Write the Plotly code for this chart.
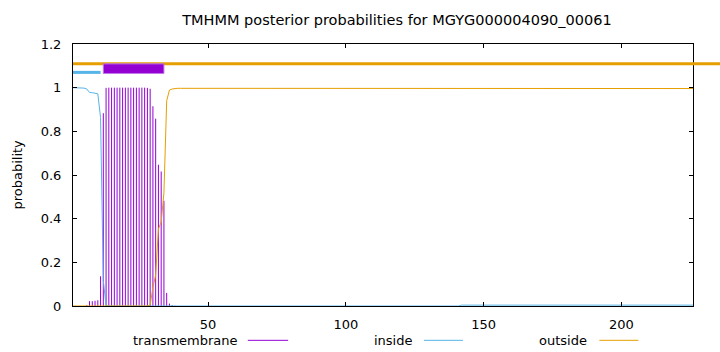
import plotly.graph_objects as go

# ---------------- data ----------------
title_text = "TMHMM posterior probabilities for MGYG000004090_00061"
series_names = ["transmembrane", "inside", "outside"]
x_tick_vals = [50, 100, 150, 200]
y_tick_vals = [0, 0.2, 0.4, 0.6, 0.8, 1.0, 1.2]
y_tick_text = ["0", "0.2", "0.4", "0.6", "0.8", "1", "1.2"]

tm_prob = [
    0, 0, 0, 0, 0, 0.004, 0.022, 0.022, 0.024, 0.026,
    0.136, 0.883, 0.999, 1, 1, 1, 1, 1, 1, 1,
    1, 1, 1, 1, 1, 1, 1, 0.999, 0.995, 0.915,
    0.858, 0.647, 0.616, 0.482, 0.06, 0.011, 0.004, 0.001, 0, 0,
    0, 0, 0, 0, 0, 0, 0, 0, 0, 0, 0, 0, 0, 0, 0, 0, 0, 0, 0, 0,
    0, 0, 0, 0, 0, 0, 0, 0, 0, 0, 0, 0, 0, 0, 0, 0, 0, 0, 0, 0,
    0, 0, 0, 0, 0, 0, 0, 0, 0, 0, 0, 0, 0, 0, 0, 0, 0, 0, 0, 0,
    0, 0, 0, 0, 0, 0, 0, 0, 0, 0, 0, 0, 0, 0, 0, 0, 0, 0, 0, 0,
    0, 0, 0, 0, 0, 0, 0, 0, 0, 0, 0, 0, 0, 0, 0, 0, 0, 0, 0, 0,
    0, 0, 0, 0, 0, 0, 0, 0, 0, 0, 0, 0, 0, 0, 0, 0, 0, 0, 0, 0,
    0, 0, 0, 0, 0, 0, 0, 0, 0, 0, 0, 0, 0, 0, 0, 0, 0, 0, 0, 0,
    0, 0, 0, 0, 0, 0, 0, 0, 0, 0, 0, 0, 0, 0, 0, 0, 0, 0, 0, 0,
    0, 0, 0, 0, 0, 0, 0, 0, 0, 0, 0, 0, 0, 0, 0, 0, 0, 0, 0, 0,
    0, 0, 0, 0, 0, 0,
]

inside_prob = [
    1, 1, 0.999, 0.999, 0.998, 0.994, 0.978, 0.977, 0.975, 0.972,
    0.864, 0.117, 0.001,
    0, 0, 0, 0, 0, 0, 0, 0, 0, 0, 0, 0, 0, 0, 0, 0, 0, 0, 0, 0,
    0, 0, 0, 0, 0, 0, 0, 0, 0, 0, 0, 0, 0, 0, 0, 0, 0, 0, 0, 0,
    0, 0, 0, 0, 0, 0, 0, 0, 0, 0, 0, 0, 0, 0, 0, 0, 0, 0, 0, 0,
    0, 0, 0, 0, 0, 0, 0, 0, 0, 0, 0, 0, 0, 0, 0, 0, 0, 0, 0, 0,
    0, 0, 0, 0, 0, 0, 0, 0, 0, 0, 0, 0, 0, 0, 0, 0, 0, 0, 0, 0,
    0, 0, 0, 0, 0, 0, 0, 0, 0, 0, 0, 0, 0, 0, 0, 0, 0, 0, 0, 0,
    0, 0, 0, 0, 0, 0, 0, 0,
    0.004, 0.004, 0.004, 0.004, 0.004, 0.004, 0.004, 0.004, 0.004, 0.004,
    0.004, 0.004, 0.004, 0.004, 0.004, 0.004, 0.004, 0.004, 0.004, 0.004,
    0.004, 0.004, 0.004, 0.004, 0.004, 0.004, 0.004, 0.004, 0.004, 0.004,
    0.004, 0.004, 0.004, 0.004, 0.004, 0.004, 0.004, 0.004, 0.004, 0.004,
    0.004, 0.004, 0.004, 0.004, 0.004, 0.004, 0.004, 0.004, 0.004, 0.004,
    0.004, 0.004, 0.004, 0.004, 0.004, 0.004, 0.004, 0.004, 0.004, 0.004,
    0.004, 0.004, 0.004, 0.004, 0.004, 0.004, 0.004, 0.004, 0.004, 0.004,
    0.004, 0.004, 0.004, 0.004, 0.004, 0.004, 0.004, 0.004, 0.004, 0.004,
    0.004, 0.004, 0.004, 0.004, 0.004,
]

outside_prob = [
    0, 0, 0, 0, 0, 0, 0, 0, 0, 0, 0, 0, 0, 0, 0, 0, 0, 0, 0, 0,
    0, 0, 0, 0, 0, 0, 0, 0,
    0.005, 0.085, 0.142, 0.353, 0.384, 0.518, 0.94, 0.989, 0.994, 0.997,
    0.997, 0.997, 0.997, 0.997, 0.997, 0.997, 0.997, 0.997, 0.997, 0.997,
    0.997, 0.997, 0.997, 0.997, 0.997, 0.997, 0.997, 0.997, 0.997, 0.997,
    0.997, 0.997, 0.997, 0.997, 0.997, 0.997, 0.997, 0.997, 0.997, 0.997,
    0.997, 0.997, 0.997, 0.997, 0.997, 0.997, 0.997, 0.997, 0.997, 0.997,
    0.997, 0.997, 0.997, 0.997, 0.997, 0.997, 0.997, 0.997, 0.997, 0.997,
    0.997, 0.997, 0.997, 0.997, 0.997, 0.997, 0.997, 0.997, 0.997, 0.997,
    0.997, 0.997, 0.997, 0.997, 0.997, 0.997, 0.997, 0.997, 0.997, 0.997,
    0.997, 0.997, 0.997, 0.997, 0.997, 0.997, 0.997, 0.997, 0.997, 0.997,
    0.997, 0.997, 0.997, 0.997, 0.997, 0.997, 0.997, 0.997, 0.997, 0.997,
    0.997, 0.997, 0.997, 0.997, 0.997, 0.997, 0.997, 0.997, 0.997, 0.997,
    0.997, 0.997, 0.997,
    0.996, 0.996, 0.996, 0.996, 0.996, 0.996, 0.996, 0.996, 0.996, 0.996,
    0.996, 0.996, 0.996, 0.996, 0.996, 0.996, 0.996, 0.996, 0.996, 0.996,
    0.996, 0.996, 0.996, 0.996, 0.996, 0.996, 0.996, 0.996, 0.996, 0.996,
    0.996, 0.996, 0.996, 0.996, 0.996, 0.996, 0.996, 0.996, 0.996, 0.996,
    0.996, 0.996, 0.996, 0.996, 0.996, 0.996, 0.996, 0.996, 0.996, 0.996,
    0.996, 0.996, 0.996, 0.996, 0.996, 0.996, 0.996, 0.996, 0.996, 0.996,
    0.996, 0.996, 0.996, 0.996, 0.996, 0.996, 0.996, 0.996, 0.996, 0.996,
    0.996, 0.996, 0.996, 0.996, 0.996, 0.996, 0.996, 0.996, 0.996, 0.996,
    0.996, 0.996, 0.996, 0.996, 0.996,
]

# predicted topology (top bars)
inside_region = [1, 11]
tm_region = [12, 34]
seq_length = len(tm_prob)
residues = list(range(1, seq_length + 1))

# ---------------- styles ----------------
C_TM = "#9400D3"
C_IN = "#56B4E9"
C_OUT = "#E69F00"
FONT = "DejaVu Sans"
FS = 13

fig = go.Figure()

# transmembrane impulses
imp_x, imp_y = [], []
for r, v in zip(residues, tm_prob):
    if v > 0:
        imp_x += [r, r, None]
        imp_y += [0, v, None]
fig.add_trace(go.Scatter(x=imp_x, y=imp_y, mode="lines",
                         line=dict(color=C_TM, width=1), name=series_names[0],
                         hoverinfo="skip"))
fig.add_trace(go.Scatter(x=residues, y=inside_prob, mode="lines",
                         line=dict(color=C_IN, width=1), name=series_names[1]))
fig.add_trace(go.Scatter(x=residues, y=outside_prob, mode="lines",
                         line=dict(color=C_OUT, width=1), name=series_names[2]))

shapes = []
# outside bar across the whole sequence (extends past the frame, as in the reference)
shapes.append(dict(type="line", xref="paper", yref="y", x0=0, x1=1.05,
                   y0=1.11, y1=1.11, line=dict(color=C_OUT, width=3)))
shapes.append(dict(type="line", xref="x", yref="y", x0=inside_region[0],
                   x1=inside_region[1], y0=1.07, y1=1.07,
                   line=dict(color=C_IN, width=3)))
shapes.append(dict(type="rect", xref="x", yref="y", x0=tm_region[0],
                   x1=tm_region[1], y0=1.065, y1=1.109, fillcolor=C_TM,
                   line=dict(color="#c07ae6", width=1)))

# gnuplot-like legend: text followed by a line sample
legend_items = [
    (series_names[0], C_TM, 0.270, 0.282, 0.347),
    (series_names[1], C_IN, 0.551, 0.566, 0.629),
    (series_names[2], C_OUT, 0.833, 0.849, 0.912),
]
annotations = []
ly = -0.131
for name, col, tx, l0, l1 in legend_items:
    annotations.append(dict(text=name, xref="paper", yref="paper", x=tx, y=ly,
                            xanchor="right", yanchor="middle", showarrow=False,
                            font=dict(family=FONT, size=FS, color="black")))
    shapes.append(dict(type="line", xref="paper", yref="paper", x0=l0, x1=l1,
                       y0=ly, y1=ly, line=dict(color=col, width=1)))

annotations.append(dict(text="probability", xref="paper", yref="paper",
                        x=-0.091, y=0.5, textangle=-90, xanchor="center",
                        yanchor="middle", showarrow=False,
                        font=dict(family=FONT, size=FS, color="black")))

fig.update_layout(
    width=720, height=352, autosize=False,
    margin=dict(l=73, r=27, t=44, b=46, pad=0),
    paper_bgcolor="white", plot_bgcolor="white",
    showlegend=False,
    font=dict(family=FONT, size=FS, color="black"),
    title=dict(text=title_text, x=0.5225, xref="paper", y=1 - 20 / 352,
               yref="container", xanchor="center", yanchor="middle",
               font=dict(family=FONT, size=14.5, color="black")),
    shapes=shapes, annotations=annotations,
)
fig.update_xaxes(range=[1, seq_length], tickvals=x_tick_vals, ticks="inside",
                 ticklen=4, tickcolor="black", showline=True, linecolor="black",
                 linewidth=1, mirror="ticks", showgrid=False, zeroline=False,
                 ticklabelstandoff=6)
fig.update_yaxes(range=[0, 1.2], tickvals=y_tick_vals, ticktext=y_tick_text,
                 ticks="inside", ticklen=4, tickcolor="black", showline=True,
                 linecolor="black", linewidth=1, mirror="ticks", showgrid=False,
                 zeroline=False, ticklabelstandoff=8)

fig.write_html("out.html")
